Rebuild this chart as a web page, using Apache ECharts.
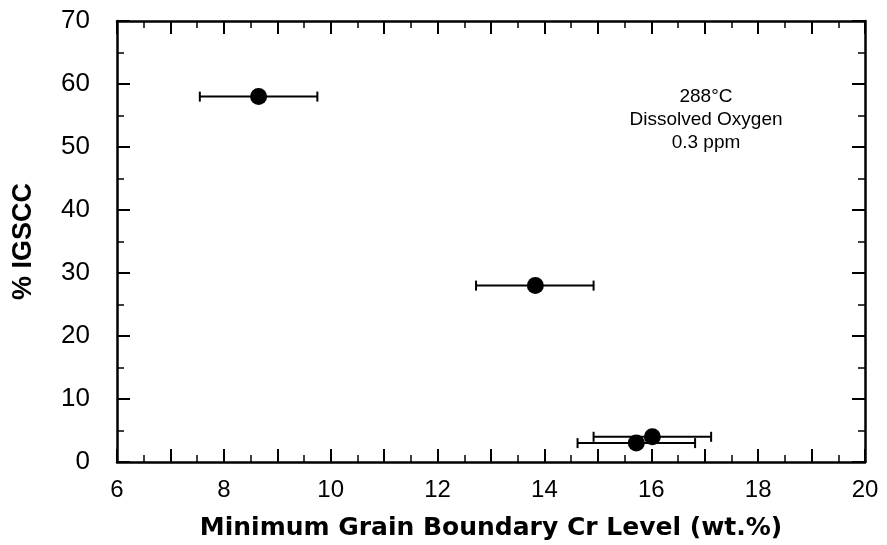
<!DOCTYPE html>
<html><head><meta charset="utf-8">
<script src="https://cdn.jsdelivr.net/npm/echarts@6/dist/echarts.min.js"></script>
<style>html,body{margin:0;padding:0;background:#fff}#c{width:887px;height:545px}</style>
</head><body><div id="c"></div>
<script>
// Data
var crLevel = [8.65, 13.83, 16.02, 15.72];      // x: minimum grain boundary Cr (wt.%)
var igscc   = [58, 28, 4, 3];                    // y: % IGSCC
var crLow   = [7.55, 12.72, 14.92, 14.62];       // error bar lower x
var crHigh  = [9.75, 14.92, 17.12, 16.82];       // error bar upper x
var annotationLines = ['288°C', 'Dissolved Oxygen', '0.3 ppm'];

var points = crLevel.map(function (x, i) { return [x, igscc[i]]; });
var bars = crLevel.map(function (x, i) { return [crLow[i], crHigh[i], igscc[i]]; });

var chart = echarts.init(document.getElementById('c'), null, {renderer: 'canvas'});
var font = 'Liberation Sans';
var tickCommon = {show: true, inside: true, length: 13, lineStyle: {color: '#000', width: 2}};
var minorCommon = {show: true, splitNumber: 2, length: 7, lineStyle: {color: '#000', width: 1.5}};
var lineCommon = {show: true, onZero: false, lineStyle: {color: '#000', width: 2.5}};

chart.setOption({
  animation: false,
  backgroundColor: '#fff',
  grid: {left: 117, right: 22, top: 21, bottom: 83, containLabel: false, outerBoundsMode: 'none'},
  xAxis: [{
    type: 'value', min: 6, max: 20, interval: 1, position: 'bottom',
    axisLine: lineCommon, axisTick: tickCommon, minorTick: minorCommon,
    splitLine: {show: false}, minorSplitLine: {show: false},
    axisLabel: {fontFamily: font, fontSize: 24, color: '#000', margin: 16,
      formatter: function (v) { return v % 2 === 0 ? String(v) : ''; }},
    name: 'Minimum Grain Boundary Cr Level (wt.%)', nameLocation: 'middle', nameGap: 54,
    nameTextStyle: {fontFamily: 'DejaVu Sans', fontSize: 25, fontWeight: 'bold', color: '#000'}
  }, {
    type: 'value', min: 6, max: 20, interval: 1, position: 'top',
    axisLine: lineCommon, axisTick: tickCommon, minorTick: minorCommon,
    splitLine: {show: false}, axisLabel: {show: false}
  }],
  yAxis: [{
    type: 'value', min: 0, max: 70, interval: 10, position: 'left',
    axisLine: lineCommon, axisTick: tickCommon, minorTick: minorCommon,
    splitLine: {show: false}, minorSplitLine: {show: false},
    axisLabel: {fontFamily: font, fontSize: 26, color: '#000', margin: 27},
    name: '% IGSCC', nameLocation: 'middle', nameGap: 80, nameRotate: 90,
    nameTextStyle: {fontFamily: font, fontSize: 27, fontWeight: 'bold', color: '#000'}
  }, {
    type: 'value', min: 0, max: 70, interval: 10, position: 'right',
    axisLine: lineCommon, axisTick: tickCommon, minorTick: minorCommon,
    splitLine: {show: false}, axisLabel: {show: false}
  }],
  series: [{
    type: 'custom', xAxisIndex: 0, yAxisIndex: 0,
    data: bars,
    renderItem: function (params, api) {
      var p1 = api.coord([api.value(0), api.value(2)]);
      var p2 = api.coord([api.value(1), api.value(2)]);
      var h = 5;
      var st = {stroke: '#000', lineWidth: 2};
      return {type: 'group', children: [
        {type: 'line', shape: {x1: p1[0], y1: p1[1], x2: p2[0], y2: p2[1]}, style: st},
        {type: 'line', shape: {x1: p1[0], y1: p1[1] - h, x2: p1[0], y2: p1[1] + h}, style: st},
        {type: 'line', shape: {x1: p2[0], y1: p2[1] - h, x2: p2[0], y2: p2[1] + h}, style: st}
      ]};
    },
    z: 2
  }, {
    type: 'scatter', xAxisIndex: 0, yAxisIndex: 0,
    data: points, symbol: 'circle', symbolSize: 17,
    itemStyle: {color: '#000', opacity: 1}, z: 3
  }],
  graphic: [{
    type: 'text', left: 706 - 100, top: 85,
    style: {text: annotationLines.join('\n'), font: '19px "Liberation Sans"', fill: '#000',
      textAlign: 'center', lineHeight: 23, width: 200}
  }]
});
</script>
</body></html>
